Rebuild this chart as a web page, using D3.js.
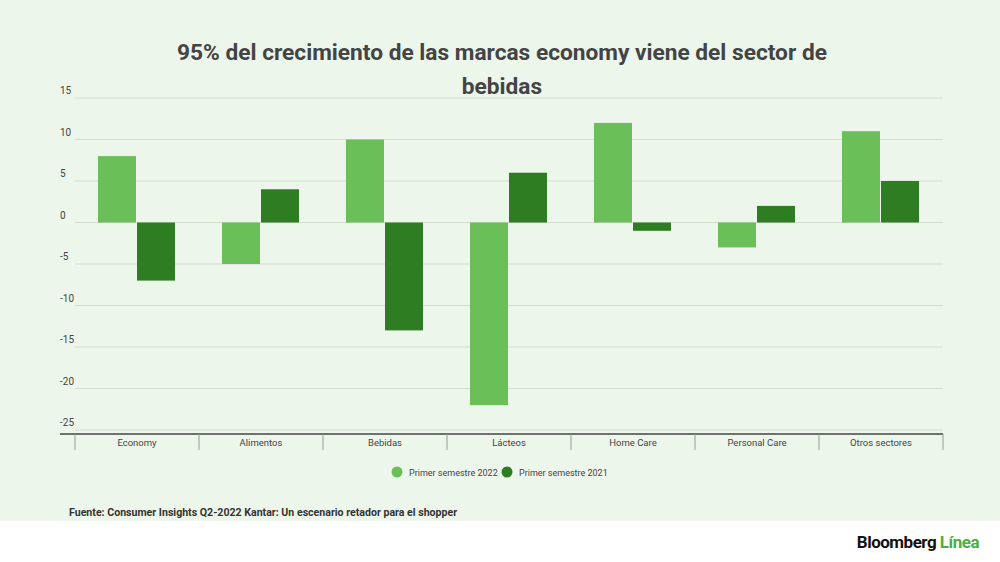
<!DOCTYPE html>
<html><head><meta charset="utf-8">
<script src="https://cdn.jsdelivr.net/npm/d3@7"></script>
<style>body{margin:0;background:#fff;font-family:Roboto,"Open Sans",sans-serif}</style>
</head><body><svg id="c" width="1000" height="562"></svg>
<script>
const categories=["Economy","Alimentos","Bebidas","Lácteos","Home Care","Personal Care","Otros sectores"];
const series2022=[8,-5,10,-22,12,-3,11];
const series2021=[-7,4,-13,6,-1,2,5];
const seriesNames=["Primer semestre 2022","Primer semestre 2021"];
const yTicks=[15,10,5,0,-5,-10,-15,-20,-25];
const colors=["#6abf59","#2e7d22"];
const svg=d3.select("#c");
svg.append("rect").attr("width",1000).attr("height",521).attr("fill","#edf6eb");
const x=d3.scaleBand().domain(categories).range([75,943]);
const y=d3.scaleLinear().domain([-25,15]).range([430,98]);
const g=svg.append("g");
yTicks.forEach(t=>{
 g.append("line").attr("x1",75).attr("x2",943).attr("y1",y(t)).attr("y2",y(t)).attr("stroke","#d3dccf").attr("stroke-width",1);
 g.append("text").attr("x",60).attr("y",y(t)-4).text(t).attr("font-size",10).attr("fill","#444");
});
const bw=38, off=23;
[series2022,series2021].forEach((s,si)=>{
 g.selectAll(null).data(s).enter().append("rect")
  .attr("x",(d,i)=>x(categories[i])+off+si*(bw+1))
  .attr("width",bw)
  .attr("y",d=>y(Math.max(0,d)))
  .attr("height",d=>Math.abs(y(d)-y(0)))
  .attr("fill",colors[si]);
});
g.append("line").attr("x1",60).attr("x2",943).attr("y1",434).attr("y2",434).attr("stroke","#444").attr("stroke-width",1.5);
categories.forEach(c=>{
 g.append("text").attr("x",x(c)+x.bandwidth()/2).attr("y",446).attr("text-anchor","middle").attr("font-size",9.5).attr("fill","#444").text(c);
});
d3.range(8).forEach(i=>{
 const xx=75+i*x.step();
 g.append("line").attr("x1",xx).attr("x2",xx).attr("y1",434).attr("y2",450).attr("stroke","#999").attr("stroke-width",1);
});
const leg=[[391,seriesNames[0]],[501,seriesNames[1]]];
leg.forEach((l,i)=>{
 g.append("circle").attr("cx",l[0]+6).attr("cy",472).attr("r",5.5).attr("fill",colors[i]);
 g.append("text").attr("x",l[0]+18).attr("y",475.5).attr("font-size",9).attr("fill","#444").text(l[1]);
});
svg.append("text").attr("x",502).attr("y",60).attr("text-anchor","middle").attr("font-size",22.7).attr("font-weight","bold").attr("fill","#444").text("95% del crecimiento de las marcas economy viene del sector de");
svg.append("text").attr("x",502).attr("y",94).attr("text-anchor","middle").attr("font-size",22.7).attr("font-weight","bold").attr("fill","#444").text("bebidas");
svg.append("text").attr("x",69).attr("y",516).attr("font-size",10.6).attr("font-weight","bold").attr("fill","#333").text("Fuente: Consumer Insights Q2-2022 Kantar: Un escenario retador para el shopper");
const lg=svg.append("text").attr("x",979).attr("y",548).attr("text-anchor","end").attr("font-size",17).attr("font-weight","bold").attr("letter-spacing",-0.5);
lg.append("tspan").attr("fill","#111").text("Bloomberg ");
lg.append("tspan").attr("fill","#4caf3e").text("Línea");
</script></body></html>
